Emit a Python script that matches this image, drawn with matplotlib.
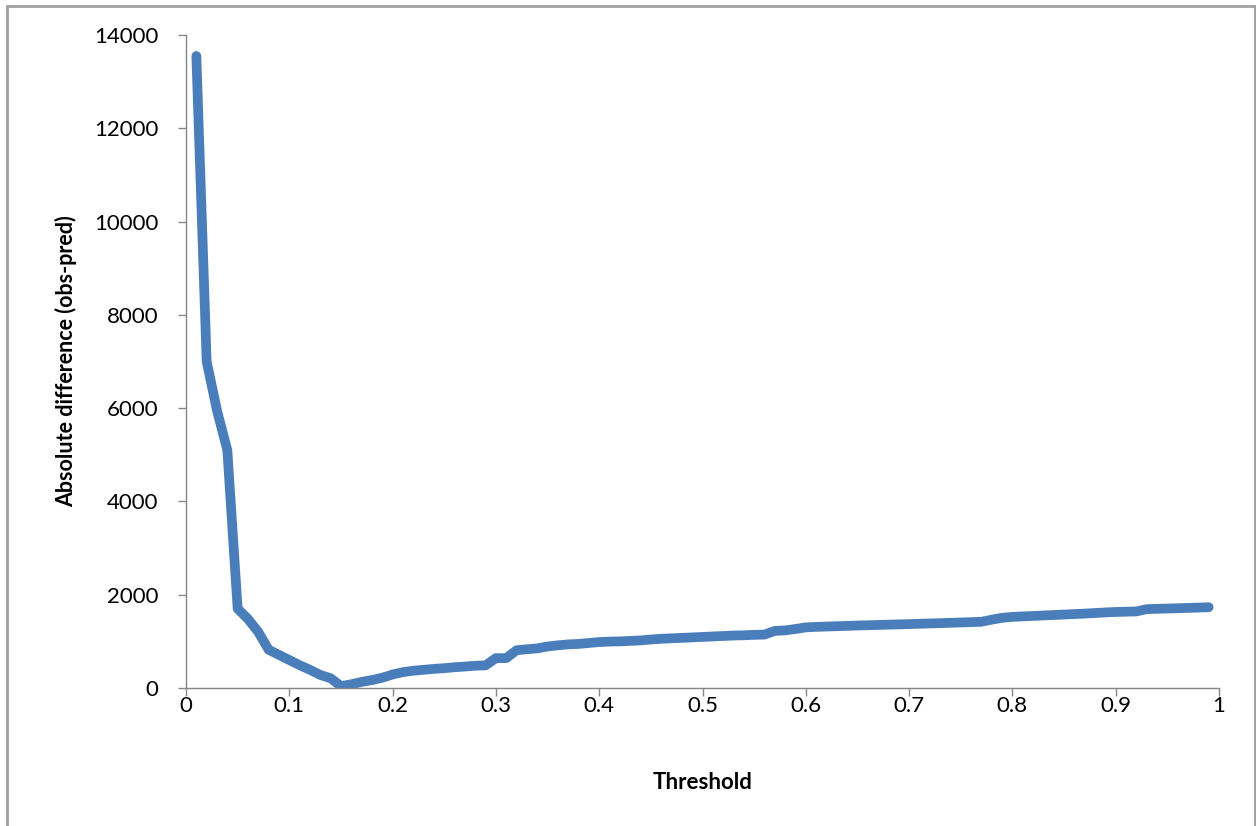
import numpy as np
import matplotlib.pyplot as plt
from matplotlib.patches import Rectangle

# threshold values, 0.01 .. 0.99
threshold = np.round(np.arange(1, 100) / 100, 2)
abs_diff = [
    13550, 7000, 5950, 5100, 1700, 1480, 1200, 820, 710, 600,
    490, 390, 280, 210, 40, 80, 130, 170, 220, 290,
    340, 370, 390, 410, 425, 445, 460, 478, 485, 640,
    640, 810, 830, 850, 890, 915, 935, 945, 965, 985,
    995, 1000, 1010, 1020, 1040, 1055, 1065, 1075, 1085, 1095,
    1105, 1115, 1125, 1130, 1140, 1145, 1225, 1235, 1265, 1300,
    1310, 1318, 1325, 1332, 1340, 1345, 1352, 1358, 1364, 1370,
    1377, 1384, 1390, 1398, 1405, 1412, 1420, 1465, 1505, 1525,
    1535, 1545, 1555, 1565, 1575, 1585, 1595, 1608, 1620, 1630,
    1636, 1642, 1690, 1698, 1704, 1710, 1717, 1724, 1732,
]
x_ticks = np.round(np.arange(0, 11) / 10, 1)
y_ticks = np.arange(0, 14001, 2000)

plt.rcParams['font.family'] = ['Lato', 'DejaVu Sans']
fig = plt.figure(figsize=(12.56, 8.26), dpi=100)
ax = fig.add_axes([186 / 1256, 138 / 826, 1033 / 1256, 653 / 826])

ax.plot(threshold, abs_diff, color='#4a7ebb', lw=7, solid_capstyle='round',
        solid_joinstyle='round')

ax.set_xlim(0, 1)
ax.set_ylim(0, 14000)
ax.set_xticks(x_ticks)
ax.set_xticklabels([f'{v:g}' for v in x_ticks])
ax.set_yticks(y_ticks)
ax.tick_params(direction='out', length=6, width=1, colors='#868686',
               labelcolor='black', labelsize=16)
ax.tick_params(axis='x', pad=0)
ax.tick_params(axis='y', pad=14)
for s in ['top', 'right']:
    ax.spines[s].set_visible(False)
for s in ['left', 'bottom']:
    ax.spines[s].set_color('#868686')
    ax.spines[s].set_linewidth(1)

ax.set_xlabel('Threshold', fontsize=16, fontweight='bold', labelpad=40)
ax.set_ylabel('Absolute difference (obs-pred)', fontsize=15.5, fontweight='bold',
              labelpad=12)

# outer chart border
fig.patches.append(Rectangle((7 / 1256, -0.01), 1247.5 / 1256, 1.01 - 5.5 / 826,
                             transform=fig.transFigure, fill=False,
                             edgecolor='#a0a0a0', lw=2))

fig.savefig('out.png', dpi=100)
